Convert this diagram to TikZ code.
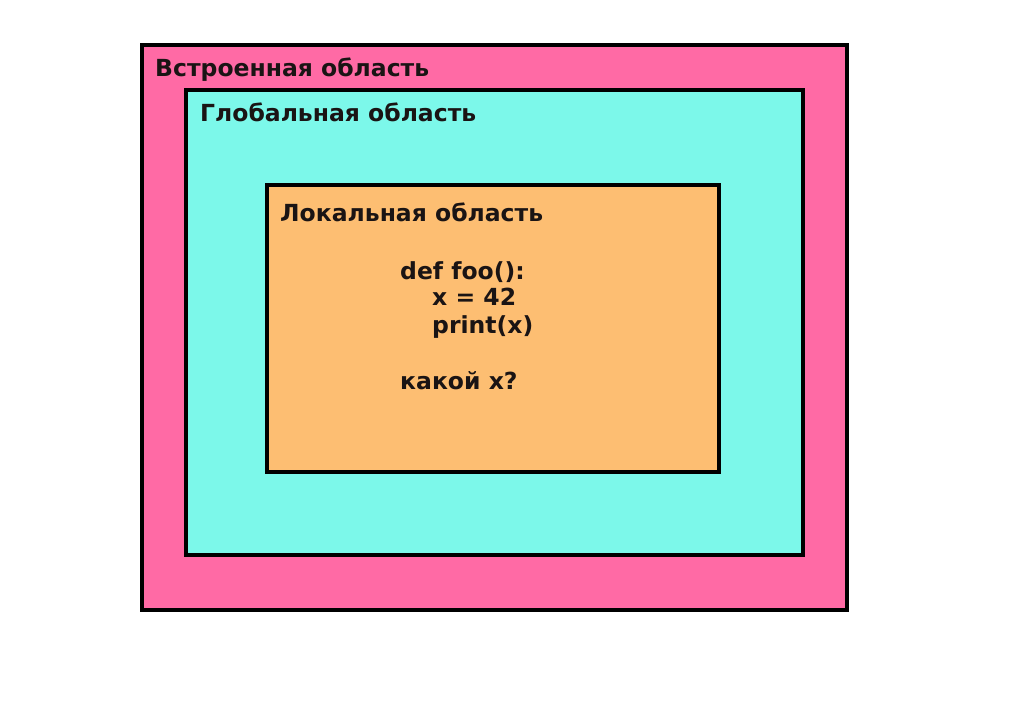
\documentclass[tikz,border=0pt]{standalone}
\usepackage{fontspec}
\setmainfont{DejaVu Sans}
\definecolor{pinkbg}{HTML}{FF6AA5}
\definecolor{cyanbg}{HTML}{7CF8EA}
\definecolor{orangebg}{HTML}{FDBE72}
\definecolor{ink}{HTML}{1A1414}
\begin{document}
\begin{tikzpicture}[x=1pt,y=-1pt,
  scopebox/.style={draw=black,line width=4.5pt},
  lbl/.style={anchor=base west,inner sep=0pt,text=ink,font=\bfseries\fontsize{23.5}{27}\selectfont}]
\useasboundingbox (0,0) rectangle (1024,716);
\fill[white] (0,0) rectangle (1024,716);
\draw[scopebox,fill=pinkbg] (142,45) rectangle (847,610);
\draw[scopebox,fill=cyanbg] (186,90) rectangle (803,555);
\draw[scopebox,fill=orangebg] (267,185) rectangle (719,472);
\node[lbl] (builtin) at (155,76) {Встроенная область};
\node[lbl] (global) at (200,121) {Глобальная область};
\node[lbl] (local) at (280,221) {Локальная область};
\node[lbl] (c1) at (400,279) {def foo():};
\node[lbl] (c2) at (432,305) {x = 42};
\node[lbl] (c3) at (432,333) {print(x)};
\node[lbl] (q) at (400,389) {какой x?};
\end{tikzpicture}
\end{document}
